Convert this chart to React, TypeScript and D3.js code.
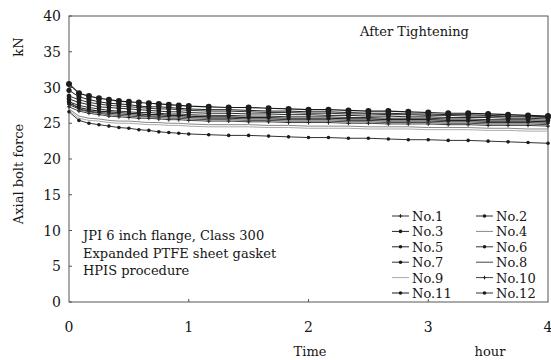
import React from 'react';
import * as d3 from 'd3';

// elapsed time after tightening, minutes
const TIME_MIN = [0, 5, 10, 15, 20, 25, 30, 35, 40, 45, 50, 55, 60, 70, 80, 90, 100, 110, 120, 130, 140, 150, 160, 170, 180, 190, 200, 210, 220, 230, 240];

// axial bolt force, kN
const NO1 = [27.6, 27.0, 26.7, 26.5, 26.4, 26.3, 26.2, 26.1, 26.0, 26.0, 25.9, 25.9, 25.8, 25.7, 25.7, 25.6, 25.6, 25.5, 25.5, 25.5, 25.4, 25.4, 25.3, 25.3, 25.3, 25.2, 25.2, 25.1, 25.1, 25.1, 25.0];
const NO2 = [28.4, 27.9, 27.6, 27.3, 27.2, 27.1, 27.0, 26.9, 26.8, 26.7, 26.6, 26.6, 26.5, 26.4, 26.4, 26.3, 26.3, 26.2, 26.2, 26.1, 26.1, 26.0, 26.0, 25.9, 25.9, 25.8, 25.8, 25.8, 25.7, 25.7, 25.6];
const NO3 = [27.8, 27.2, 26.9, 26.7, 26.6, 26.5, 26.4, 26.3, 26.2, 26.2, 26.1, 26.1, 26.0, 25.9, 25.9, 25.8, 25.8, 25.7, 25.7, 25.7, 25.6, 25.6, 25.5, 25.5, 25.5, 25.4, 25.4, 25.3, 25.3, 25.3, 25.2];
const NO4 = [27.0, 26.0, 25.7, 25.6, 25.4, 25.3, 25.3, 25.2, 25.1, 25.1, 25.0, 25.0, 24.9, 24.8, 24.8, 24.8, 24.7, 24.7, 24.6, 24.6, 24.6, 24.5, 24.5, 24.5, 24.4, 24.4, 24.4, 24.3, 24.3, 24.2, 24.2];
const NO5 = [29.6, 28.7, 28.3, 28.0, 27.8, 27.7, 27.6, 27.4, 27.3, 27.3, 27.2, 27.1, 27.0, 26.9, 26.9, 26.8, 26.7, 26.7, 26.6, 26.6, 26.5, 26.4, 26.4, 26.3, 26.3, 26.2, 26.2, 26.1, 26.0, 26.0, 25.9];
const NO6 = [28.8, 28.3, 27.9, 27.7, 27.5, 27.4, 27.3, 27.2, 27.1, 27.0, 27.0, 26.9, 26.8, 26.7, 26.7, 26.6, 26.5, 26.5, 26.4, 26.4, 26.3, 26.3, 26.2, 26.2, 26.1, 26.1, 26.0, 26.0, 25.9, 25.9, 25.8];
const NO7 = [26.6, 25.4, 25.0, 24.8, 24.6, 24.4, 24.3, 24.1, 24.0, 23.8, 23.7, 23.6, 23.5, 23.4, 23.3, 23.3, 23.2, 23.1, 23.0, 23.0, 22.9, 22.9, 22.8, 22.7, 22.7, 22.6, 22.6, 22.5, 22.4, 22.3, 22.2];
const NO8 = [28.2, 26.9, 26.6, 26.4, 26.2, 26.1, 26.0, 25.9, 25.9, 25.8, 25.7, 25.7, 25.6, 25.5, 25.5, 25.4, 25.4, 25.3, 25.3, 25.3, 25.2, 25.2, 25.1, 25.1, 25.1, 25.0, 25.0, 24.9, 24.9, 24.9, 24.8];
const NO9 = [26.8, 25.7, 25.4, 25.3, 25.1, 25.0, 25.0, 24.9, 24.8, 24.8, 24.7, 24.7, 24.6, 24.5, 24.5, 24.5, 24.4, 24.4, 24.3, 24.3, 24.3, 24.2, 24.2, 24.2, 24.1, 24.1, 24.1, 24.0, 24.0, 23.9, 23.9];
const NO10 = [27.3, 26.7, 26.4, 26.2, 26.0, 25.9, 25.8, 25.7, 25.7, 25.6, 25.5, 25.5, 25.4, 25.3, 25.3, 25.2, 25.2, 25.1, 25.1, 25.1, 25.0, 25.0, 24.9, 24.9, 24.9, 24.8, 24.8, 24.7, 24.7, 24.7, 24.6];
const NO11 = [30.5, 29.2, 28.8, 28.5, 28.3, 28.1, 28.0, 27.9, 27.8, 27.7, 27.6, 27.5, 27.4, 27.3, 27.2, 27.2, 27.1, 27.0, 26.9, 26.9, 26.8, 26.7, 26.7, 26.6, 26.5, 26.4, 26.4, 26.3, 26.2, 26.1, 26.0];
const NO12 = [28.0, 27.5, 27.2, 27.0, 26.8, 26.7, 26.6, 26.5, 26.5, 26.4, 26.3, 26.3, 26.2, 26.1, 26.1, 26.0, 26.0, 25.9, 25.9, 25.9, 25.8, 25.8, 25.7, 25.7, 25.7, 25.6, 25.6, 25.5, 25.5, 25.5, 25.4];

const SERIES_NAMES = ['No.1', 'No.2', 'No.3', 'No.4', 'No.5', 'No.6', 'No.7', 'No.8', 'No.9', 'No.10', 'No.11', 'No.12'];
const SERIES_DATA = [NO1, NO2, NO3, NO4, NO5, NO6, NO7, NO8, NO9, NO10, NO11, NO12];

const Y_TICKS = [0, 5, 10, 15, 20, 25, 30, 35, 40];
const X_TICKS = [0, 1, 2, 3, 4];

const NOTE_LINES = ['JPI 6 inch flange, Class 300', 'Expanded PTFE sheet gasket', 'HPIS procedure'];

// marker look per series (same order as SERIES_NAMES)
const STYLES = [
    { mark: 'plus', r: 2, stroke: '#333', width: 1 },
    { mark: 'dot', r: 2.4, stroke: '#2a2a2a', width: 1 },
    { mark: 'dot', r: 1.8, stroke: '#222', width: 1.2 },
    { mark: 'none', r: 0, stroke: '#888', width: 1 },
    { mark: 'dot', r: 2.6, stroke: '#222', width: 1 },
    { mark: 'dot', r: 2.4, stroke: '#2c3c38', width: 1 },
    { mark: 'dot', r: 1.8, stroke: '#333', width: 1 },
    { mark: 'none', r: 0, stroke: '#444', width: 1 },
    { mark: 'none', r: 0, stroke: '#aaa', width: 1 },
    { mark: 'plus', r: 2, stroke: '#444', width: 1 },
    { mark: 'dot', r: 3, stroke: '#1a1a1a', width: 1.2 },
    { mark: 'dot', r: 2.2, stroke: '#333', width: 1 },
];

const WIDTH = 551;
const HEIGHT = 360;
const FONT = '"DejaVu Serif", serif';
const INK = '#161616';

function Marker({ x, y, style, r }) {
    const size = r ?? style.r;
    if (style.mark === 'dot') {
        return <circle cx={x} cy={y} r={size} fill="#1c1c1c" />;
    }
    if (style.mark === 'plus') {
        return (
            <g stroke="#222" strokeWidth="1">
                <line x1={x} x2={x} y1={y - size} y2={y + size} />
                <line x1={x - size} x2={x + size} y1={y} y2={y} />
            </g>
        );
    }
    return null;
}

export default function App() {
    const left = 69, right = 548, top = 16, bottom = 302;
    const x = d3.scaleLinear().domain([0, 4]).range([left, right]);
    const y = d3.scaleLinear().domain([0, 40]).range([bottom, top]);
    const line = d3.line<number>()
        .x((d, i) => x(TIME_MIN[i] / 60))
        .y(d => y(d));

    return (
        <svg width={WIDTH} height={HEIGHT} style={{ position: 'absolute', left: 0, top: 0, background: '#fff' }} fontFamily={FONT}>
            {/* frame */}
            <rect x={left} y={top} width={right - left} height={bottom - top} fill="none" stroke="#555" strokeWidth="1" />

            {/* y axis */}
            {Y_TICKS.map(t => (
                <g key={'y' + t}>
                    <line x1={left} x2={left + 3} y1={y(t)} y2={y(t)} stroke="#555" />
                    <text x={left - 8} y={y(t) + 5} textAnchor="end" fontSize="14" fill={INK}>{t}</text>
                </g>
            ))}
            {/* x axis */}
            {X_TICKS.map(t => (
                <g key={'x' + t}>
                    {t > 0 && t < 4 && <line x1={x(t)} x2={x(t)} y1={bottom} y2={bottom - 3} stroke="#555" />}
                    <text x={x(t)} y={bottom + 30} textAnchor="middle" fontSize="14" fill={INK}>{t}</text>
                </g>
            ))}

            <text transform="translate(23,47) rotate(-90)" textAnchor="middle" fontSize="13" fill={INK}>kN</text>
            <text transform="translate(23,174) rotate(-90)" textAnchor="middle" fontSize="13" fill={INK}>Axial bolt force</text>
            <text x={310} y={356} textAnchor="middle" fontSize="13" fill={INK}>Time</text>
            <text x={490} y={356} textAnchor="middle" fontSize="13" fill={INK}>hour</text>
            <text x={360} y={36} fontSize="13" fill={INK}>After Tightening</text>

            {NOTE_LINES.map((s, i) => (
                <text key={s} x={83} y={240 + i * 17.5} fontSize="13" fill={INK}>{s}</text>
            ))}

            {/* series */}
            {SERIES_DATA.map((data, k) => (
                <path key={'l' + k} d={line(data)} fill="none" stroke={STYLES[k].stroke} strokeWidth={STYLES[k].width} />
            ))}
            {SERIES_DATA.map((data, k) => (
                <g key={'m' + k}>
                    {data.map((v, i) => (
                        <Marker key={i} x={x(TIME_MIN[i] / 60)} y={y(v)} style={STYLES[k]} />
                    ))}
                </g>
            ))}

            {/* legend */}
            {SERIES_NAMES.map((name, i) => {
                const lx = i % 2 === 0 ? 392 : 476;
                const ly = 216 + Math.floor(i / 2) * 15.4;
                return (
                    <g key={name}>
                        <line x1={lx} x2={lx + 17} y1={ly} y2={ly} stroke={STYLES[i].stroke} strokeWidth="1" />
                        <Marker x={lx + 8.5} y={ly} style={STYLES[i]} r={Math.min(STYLES[i].r, 1.8)} />
                        <text x={lx + 20} y={ly + 5} fontSize="13" fill={INK}>{name}</text>
                    </g>
                );
            })}
        </svg>
    );
}
